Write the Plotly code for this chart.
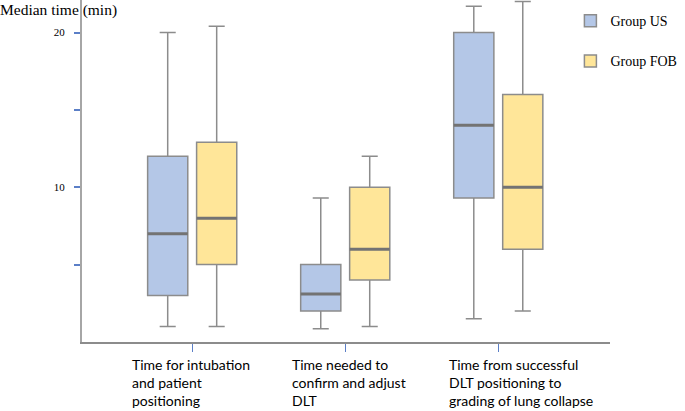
import plotly.graph_objects as go

categories = ["Time for intubation<br>and patient<br>positioning",
              "Time needed to<br>confirm and adjust<br>DLT",
              "Time from successful<br>DLT positioning to<br>grading of lung collapse"]
cat_keys = ["intubation", "confirm", "collapse"]

# five-number summaries
us_low = [1.0, 0.85, 1.5]
us_q1 = [3.0, 2.0, 9.3]
us_med = [7.0, 3.1, 14.0]
us_q3 = [12.0, 5.0, 20.0]
us_high = [20.0, 9.3, 21.7]

fob_low = [1.0, 1.0, 2.0]
fob_q1 = [5.0, 4.0, 6.0]
fob_med = [8.0, 6.0, 10.0]
fob_q3 = [12.9, 10.0, 16.0]
fob_high = [20.4, 12.0, 22.0]

groups = [
    ("Group US", "US", "#B4C7E7", us_low, us_q1, us_med, us_q3, us_high),
    ("Group FOB", "FOB", "#FFE699", fob_low, fob_q1, fob_med, fob_q3, fob_high),
]

fig = go.Figure()
for name, og, fill, lo, q1, med, q3, hi in groups:
    fig.add_trace(go.Box(
        name=name, x=cat_keys, offsetgroup=og, legendgroup=og,
        lowerfence=lo, q1=q1, median=med, q3=q3, upperfence=hi,
        fillcolor=fill, line=dict(color="#8C8C8C", width=1.5),
        whiskerwidth=0.4, hoverinfo="skip",
    ))
# thicker median bars drawn as zero-height boxes
for name, og, fill, lo, q1, med, q3, hi in groups:
    fig.add_trace(go.Box(
        name=name, x=cat_keys, offsetgroup=og, legendgroup=og, showlegend=False,
        lowerfence=med, q1=med, median=med, q3=med, upperfence=med,
        fillcolor=fill, line=dict(color="#737373", width=3),
        whiskerwidth=0, hoverinfo="skip",
    ))

label_shift = [-62, -55, -51]
for key, text, dx in zip(cat_keys, categories, label_shift):
    fig.add_annotation(x=key, y=0, xref="x", yref="y", text=text,
                       showarrow=False, xanchor="left", yanchor="top",
                       align="left", xshift=dx, yshift=-12,
                       font=dict(family="Lato", size=14, color="black"))

fig.add_annotation(x=0, y=1, xref="paper", yref="paper", text="Median time (min)",
                   showarrow=False, xanchor="left", yanchor="top",
                   xshift=-84, yshift=1,
                   font=dict(family="Liberation Serif", size=15.5, color="black"))

fig.update_layout(
    width=685, height=411,
    margin=dict(l=82, r=75, t=0, b=69, autoexpand=False),
    plot_bgcolor="white", paper_bgcolor="white",
    boxmode="group", boxgap=0.36, boxgroupgap=0.18,
    legend=dict(x=0.925, y=0.985, xanchor="left", yanchor="top",
                font=dict(family="Liberation Serif", size=14, color="black"),
                tracegroupgap=19, bgcolor="rgba(0,0,0,0)"),
    xaxis=dict(type="category", range=[-0.72, 2.73], showgrid=False,
               showline=True, linecolor="#8C8C8C", linewidth=1.5,
               ticks="outside", ticklen=8, tickcolor="#5B7FC7", tickwidth=1,
               showticklabels=False, automargin=False),
    yaxis=dict(range=[0, 22.1], showgrid=False, zeroline=False,
               showline=True, linecolor="#A6A6A6", linewidth=2,
               tickvals=[5, 10, 15, 20], ticktext=["", "10", "", "20"],
               ticks="outside", ticklen=6, tickcolor="#5B7FC7", tickwidth=1.5,
               ticklabelstandoff=7, automargin=False,
               tickfont=dict(family="Liberation Serif", size=11, color="black")),
)

# drop the browser's default 8px page margin so the figure sits at the corner
fig.write_html("out.html", config={"displayModeBar": False},
               post_script="document.body.style.margin = '0';")
